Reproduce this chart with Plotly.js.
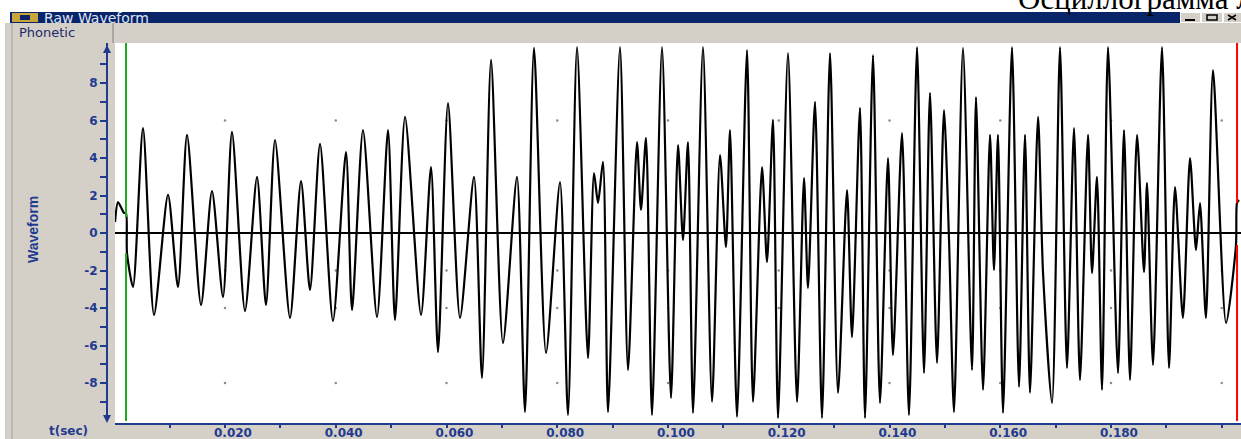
<!DOCTYPE html>
<html><head><meta charset="utf-8">
<script src="https://cdn.plot.ly/plotly-3.0.1.min.js"></script>
<style>html,body{margin:0;padding:0;background:#fff;overflow:hidden}#chart{width:1241px;height:439px}</style>
</head><body><div id="chart"></div>
<script>
// Waveform extrema (time in seconds, amplitude in axis units)
const timeSec = [
 0.00014,0.00068,0.00176,0.00212,0.00230,0.00339,0.00519,0.00718,0.00971,0.01151,
 0.01314,0.01567,0.01765,0.01964,0.02126,0.02361,0.02578,0.02740,0.02903,0.03174,
 0.03373,0.03535,0.03716,0.03950,0.04185,0.04294,0.04492,0.04745,0.04944,0.05070,
 0.05251,0.05540,0.05720,0.05847,0.06027,0.06244,0.06497,0.06641,0.06804,0.07020,
 0.07273,0.07418,0.07580,0.07797,0.08050,0.08194,0.08357,0.08555,0.08664,0.08736,
 0.08826,0.08917,0.09133,0.09278,0.09440,0.09512,0.09603,0.09711,0.09892,0.10054,
 0.10181,0.10271,0.10361,0.10452,0.10632,0.10795,0.10939,0.11047,0.11120,0.11246,
 0.11427,0.11535,0.11698,0.11788,0.11896,0.11987,0.12167,0.12330,0.12456,0.12528,
 0.12655,0.12781,0.12926,0.13070,0.13233,0.13323,0.13467,0.13558,0.13702,0.13828,
 0.13973,0.14063,0.14226,0.14352,0.14497,0.14623,0.14731,0.14858,0.14984,0.15075,
 0.15165,0.15327,0.15490,0.15562,0.15689,0.15815,0.15887,0.15959,0.16050,0.16212,
 0.16339,0.16447,0.16537,0.16682,0.16772,0.16935,0.17079,0.17205,0.17332,0.17440,
 0.17585,0.17657,0.17747,0.17838,0.17946,0.18126,0.18235,0.18343,0.18470,0.18596,
 0.18650,0.18759,0.18921,0.19047,0.19156,0.19299,0.19427,0.19535,0.19607,0.19715,
 0.19842,0.20077,0.20257,0.20275,0.20311
];
const amplitude = [
 0.59,1.65,1.07,1.07,-1.07,-2.88,5.60,-4.37,2.03,-2.88,
 5.23,-3.84,2.24,-3.41,5.39,-4.16,2.99,-3.84,4.96,-4.53,
 2.77,-3.04,4.75,-4.69,4.32,-4.11,5.49,-4.48,5.49,-4.64,
 6.19,-4.37,3.52,-6.35,6.93,-4.53,2.99,-7.73,9.23,-5.87,
 2.99,-9.55,9.87,-6.40,2.72,-9.71,9.92,-6.67,3.20,1.60,
 3.79,-9.55,9.92,-7.31,4.85,1.23,5.07,-9.71,9.92,-8.80,
 4.69,-0.37,4.85,-9.60,9.92,-9.01,4.16,-0.75,5.49,-9.81,
 9.76,-9.01,3.52,-1.55,6.03,-9.87,9.60,-9.01,2.93,-2.93,
 6.99,-9.87,9.60,-8.53,2.29,-5.55,6.67,-9.87,9.49,-9.07,
 4.00,-6.51,5.33,-9.71,9.92,-7.47,7.47,-6.93,6.56,-0.37,
 -9.55,9.87,-7.31,7.25,-8.37,5.23,-1.97,5.23,-9.60,9.92,
 -8.21,5.23,-8.53,6.19,-2.08,-9.07,9.92,-7.20,5.60,-7.84,
 5.23,-2.13,2.99,-8.37,9.92,-7.47,5.49,-7.84,5.23,-2.08,
 2.67,-7.04,9.92,-7.20,2.45,-4.53,4.00,-0.91,1.60,-4.53,
 8.69,-4.80,-0.64,1.60,1.76
];
const yTickValues = [-8,-6,-4,-2,0,2,4,6,8];
const yTickLabels = ['-8','-6','-4','-2','0','2','4','6','8'];
const yMinorValues = [-9,-7,-5,-3,-1,1,3,5,7,9];
const xTickValues = [0.02,0.04,0.06,0.08,0.10,0.12,0.14,0.16,0.18,0.20];
const xTickLabels = ['0.020','0.040','0.060','0.080','0.100','0.120','0.140','0.160','0.180',''];
const xMinorValues = [0.01,0.03,0.05,0.07,0.09,0.11,0.13,0.15,0.17,0.19];
const gridDotTimes = [0.02,0.04,0.06,0.08,0.10,0.12,0.14,0.16,0.18,0.20];
const gridDotLevels = [6,-2,-4,-8];
const startCursorSec = 0.00212;
const endCursorSec = 0.20276;

const W=1241,H=439,mL=107,mR=0,mT=43,mB=15;
const PW=W-mL-mR, PH=H-mT-mB;
const px=x=>(x-mL)/PW, py=y=>(H-mB-y)/PH;
const NAVY='#1f3a8f', GRAY='#d4d0c8';

const dotX=[], dotY=[];
gridDotTimes.forEach(t=>gridDotLevels.forEach(v=>{dotX.push(t);dotY.push(v);}));

const traces = [
 {type:'scatter',mode:'markers',x:dotX,y:dotY,marker:{size:2.5,color:'#8c8c8c'},hoverinfo:'skip'},
 {type:'scatter',mode:'lines',x:timeSec,y:amplitude,line:{color:'#000',width:2.2,shape:'spline',smoothing:0.7},hoverinfo:'skip'}
];

function rect(x0,y0,x1,y1,fill,extra){return Object.assign({type:'rect',xref:'paper',yref:'paper',x0:px(x0),x1:px(x1),y0:py(y0),y1:py(y1),fillcolor:fill,line:{width:0},layer:'below'},extra||{});}
function vline(x,y0,y1,color,w){return {type:'line',xref:'paper',yref:'paper',x0:px(x),x1:px(x),y0:py(y0),y1:py(y1),line:{color:color,width:w},layer:'below'};}

const shapes = [
 rect(5,23,115,439,GRAY),
 rect(113,23,1241,43,GRAY),
 rect(113,425,1241,439,GRAY),
 vline(5.5,23,439,'#c8c8c8',1),
 vline(12,23,439,'#a0a0a0',1),
 vline(113,23,43,'#808080',1),
 rect(10,12,1180,23,'#0a246a'),
 rect(12,13,38,22,'#c9a63a'),
 rect(20,15,30,20,'#0a246a'),
 rect(1181,13,1200,22,GRAY),
 rect(1202,13,1222,22,GRAY),
 rect(1224,13,1241,22,GRAY),
 {type:'line',xref:'paper',yref:'paper',x0:px(1185),x1:px(1195),y0:py(20),y1:py(20),line:{color:'#000',width:2},layer:'above'},
 {type:'rect',xref:'paper',yref:'paper',x0:px(1207),x1:px(1217),y0:py(15),y1:py(20),line:{color:'#000',width:1.5},layer:'above'},
 {type:'path',xref:'paper',yref:'paper',path:`M ${px(1228)},${py(15)} L ${px(1236)},${py(20)} M ${px(1228)},${py(20)} L ${px(1236)},${py(15)}`,line:{color:'#000',width:1.5},layer:'above'},
 {type:'path',xref:'paper',yref:'paper',path:`M ${px(107)},${py(45)} L ${px(103)},${py(53)} L ${px(111)},${py(53)} Z`,fillcolor:NAVY,line:{width:0},layer:'above'},
 {type:'path',xref:'paper',yref:'paper',path:`M ${px(107)},${py(423)} L ${px(103)},${py(415)} L ${px(111)},${py(415)} Z`,fillcolor:NAVY,line:{width:0},layer:'above'},
 {type:'line',xref:'x',yref:'y',x0:startCursorSec,x1:startCursorSec,y0:10.2,y1:0.85,line:{color:'#1faa1f',width:2}},
 {type:'line',xref:'x',yref:'y',x0:startCursorSec,x1:startCursorSec,y0:-1.07,y1:-10.1,line:{color:'#1faa1f',width:2}},
 {type:'line',xref:'x',yref:'y',x0:endCursorSec,x1:endCursorSec,y0:10.2,y1:1.6,line:{color:'#ff0000',width:2}},
 {type:'line',xref:'x',yref:'y',x0:endCursorSec,x1:endCursorSec,y0:-0.64,y1:-10.1,line:{color:'#ff0000',width:2}}
];

const annotations = [
 {xref:'paper',yref:'paper',x:px(33),y:py(230),text:'Waveform',textangle:-90,showarrow:false,xanchor:'center',yanchor:'middle',font:{family:'Arial',size:14,color:NAVY,weight:'bold'}},
 {xref:'paper',yref:'paper',x:px(68),y:py(431),text:'t(sec)',showarrow:false,xanchor:'center',yanchor:'middle',font:{family:'DejaVu Sans',size:12,color:NAVY,weight:'bold'}},
 {xref:'paper',yref:'paper',x:px(17),y:py(33),text:'Phonetic',showarrow:false,xanchor:'left',yanchor:'middle',font:{family:'DejaVu Sans',size:13,color:'#1a2a6a'}},
 {xref:'paper',yref:'paper',x:px(42),y:py(18),text:'Raw Waveform',showarrow:false,xanchor:'left',yanchor:'middle',font:{family:'DejaVu Sans',size:14,color:'#dfe6f5'}},
 {xref:'paper',yref:'paper',x:px(1016),y:py(18),text:'Осциллограмма л',showarrow:false,xanchor:'left',yanchor:'bottom',font:{family:'Liberation Serif',size:31,color:'#000'}}
];

const tickFont = {family:'DejaVu Sans',size:12,color:NAVY,weight:'bold'};
const layout = {
 width:W,height:H,margin:{l:mL,r:mR,t:mT,b:mB,pad:0},
 paper_bgcolor:'#fff',plot_bgcolor:'#fff',showlegend:false,
 xaxis:{domain:[px(115),1],range:[0.000135,0.203476],anchor:'free',position:0,
  showline:true,linecolor:NAVY,linewidth:2,showgrid:false,zeroline:false,
  ticks:'outside',ticklen:3,tickwidth:2,tickcolor:NAVY,
  tickmode:'array',tickvals:xTickValues,ticktext:xTickLabels,tickfont:tickFont,ticklabelshift:8,ticklabelstandoff:-5,
  minor:{tickmode:'array',tickvals:xMinorValues,ticks:'outside',ticklen:3,tickwidth:2,tickcolor:NAVY,showgrid:false}},
 yaxis:{domain:[py(421),1],range:[-10.0267,10.1333],anchor:'free',position:0,
  showline:true,linecolor:NAVY,linewidth:2,showgrid:false,
  zeroline:true,zerolinecolor:'#000',zerolinewidth:2,
  ticks:'outside',ticklen:6,tickwidth:2,tickcolor:NAVY,
  tickmode:'array',tickvals:yTickValues,ticktext:yTickLabels,tickfont:tickFont,
  minor:{tickmode:'array',tickvals:yMinorValues,ticks:'outside',ticklen:6,tickwidth:2,tickcolor:NAVY,showgrid:false}},
 shapes:shapes,annotations:annotations
};
Plotly.newPlot('chart',traces,layout,{staticPlot:true,displayModeBar:false});
</script></body></html>
